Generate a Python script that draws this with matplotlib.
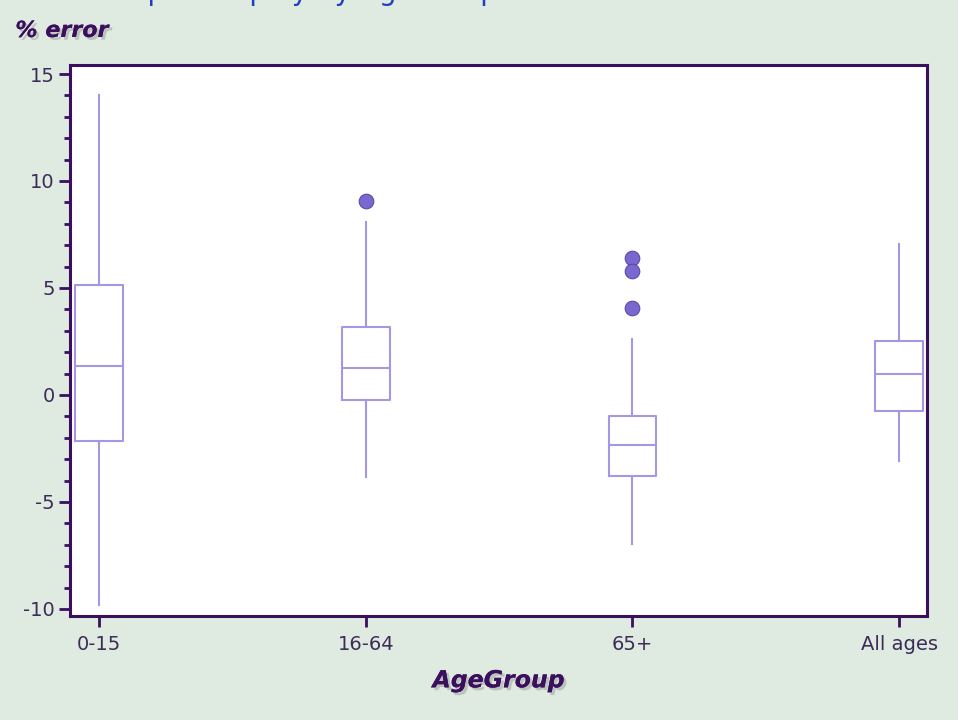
import matplotlib
matplotlib.use('Agg')
import matplotlib.pyplot as plt
import matplotlib.patheffects as pe
import numpy as np

plt.rcParams['axes.unicode_minus'] = False

# values
groups = ['0-15', '16-64', '65+', 'All ages']
whisker_lo = [-9.8, -3.85, -6.95, -3.1]
q1 = [-2.15, -0.25, -3.8, -0.75]
median = [1.35, 1.25, -2.35, 1.0]
q3 = [5.15, 3.2, -1.0, 2.5]
whisker_hi = [14.0, 8.1, 2.6, 7.05]
outliers = [[], [9.05], [6.4, 5.8, 4.05], []]

bg = '#dfebe1'
frame = '#3b0f5e'
boxcol = '#a597e6'
txtcol = '#3d2b58'

stats = []
for i in range(len(groups)):
    stats.append(dict(label=groups[i], whislo=whisker_lo[i], q1=q1[i], med=median[i],
                      q3=q3[i], whishi=whisker_hi[i], fliers=outliers[i]))

fig = plt.figure(figsize=(9.58, 7.2), dpi=100, facecolor=bg)
ax = fig.add_axes([0.0731, 0.1444, 0.8946, 0.7653])
ax.set_facecolor('white')

ax.bxp(stats, positions=range(len(groups)), widths=0.18, showcaps=False,
       boxprops=dict(color=boxcol, linewidth=1.5),
       medianprops=dict(color=boxcol, linewidth=1.5),
       whiskerprops=dict(color=boxcol, linewidth=1.5),
       flierprops=dict(marker='o', markerfacecolor='#7a68d0', markeredgecolor='#5a4aa8',
                       markersize=10.5, markeredgewidth=0.8))

ax.set_xlim(-0.11, 3.105)
ax.set_ylim(-10.33, 15.42)
ax.set_yticks([-10, -5, 0, 5, 10, 15])
ax.set_yticks(np.arange(-10, 16, 1), minor=True)
ax.set_xticks(range(len(groups)))
ax.set_xticklabels(groups)

for s in ax.spines.values():
    s.set_color(frame)
    s.set_linewidth(2.2)
ax.tick_params(axis='both', which='major', direction='out', length=8, width=2,
               color=frame, labelcolor=txtcol, labelsize=14)
ax.tick_params(axis='y', which='major', pad=3)
ax.tick_params(axis='x', which='major', pad=6)
ax.tick_params(axis='y', which='minor', direction='out', length=4, width=2, color=frame)

shadow = [pe.withSimplePatchShadow(offset=(2, -2), shadow_rgbFace='#888888', alpha=0.4), pe.Normal()]
ax.set_xlabel('AgeGroup', fontsize=17, fontweight='bold', fontstyle='italic',
              color=frame, labelpad=10, path_effects=shadow)
fig.text(0.016, 0.957, '% error', fontsize=16, fontweight='bold', fontstyle='italic',
         color=frame, ha='left', va='center', path_effects=shadow)

# caption that is cut off by the top edge in the reference
fig.text(0.10, 1.0, 'Boxplot display by AgeGroup', fontsize=20, color='#1e3fc4',
         ha='left', va='baseline')

fig.savefig('out.png', dpi=100, facecolor=bg)
